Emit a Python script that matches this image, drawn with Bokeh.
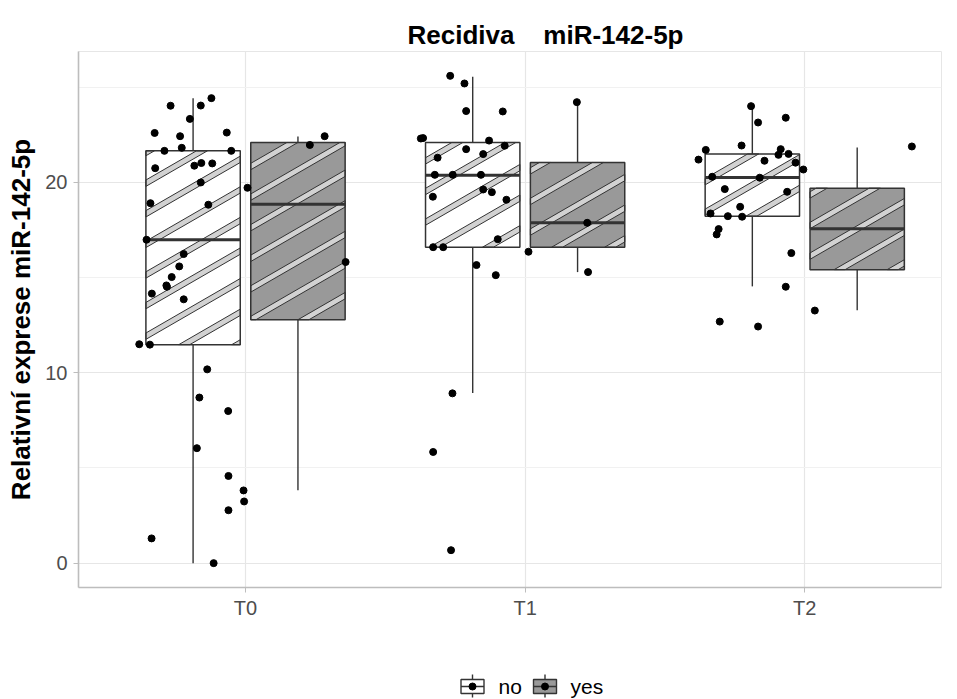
import math
from bokeh.plotting import figure
from bokeh.models import Range1d, FixedTicker
from bokeh.layouts import column
from bokeh.embed import file_html
from bokeh.resources import INLINE
from bokeh.core.properties import value

# ---------------------------------------------------------------- data
times = ["T0", "T1", "T2"]
groups = ["no", "yes"]

# box summaries per (time, group): lower whisker, Q1, median, Q3, upper whisker
box_time = ["T0", "T0", "T1", "T1", "T2", "T2"]
box_group = ["no", "yes", "no", "yes", "no", "yes"]
whisker_lo = [0.00, 3.83, 8.94, 15.29, 14.54, 13.28]
q1 = [11.48, 12.79, 16.60, 16.60, 18.23, 15.42]
median = [16.99, 18.86, 20.38, 17.88, 20.26, 17.57]
q3 = [21.66, 22.10, 22.10, 21.05, 21.50, 19.70]
whisker_hi = [24.43, 22.41, 25.56, 24.22, 24.00, 21.84]

# individual measurements (jitter = horizontal offset from the time position)
t0_jitter = [-0.122, -0.268, -0.160, -0.199, -0.325, -0.234, -0.067, -0.228,
             -0.290, -0.051, -0.323, -0.183, -0.158, -0.119, -0.160, -0.340,
             -0.133, 0.007, -0.354, -0.221, -0.237, -0.264, -0.283, -0.281,
             -0.335, -0.221, -0.380, -0.342, -0.137, -0.165, -0.062, -0.174,
             -0.061, -0.007, -0.005, -0.061, -0.336, -0.114, 0.230, 0.283,
             0.358]
t0_value = [24.43, 24.03, 24.04, 23.34, 22.60, 22.43, 22.62, 21.82,
            21.66, 21.66, 20.75, 20.88, 21.02, 21.00, 20.00, 18.91,
            18.83, 19.72, 16.99, 16.24, 15.59, 15.03, 14.59, 14.52,
            14.16, 13.86, 11.50, 11.48, 10.18, 8.70, 7.99, 6.04,
            4.58, 3.82, 3.24, 2.78, 1.30, 0.00, 21.97, 22.43,
            15.82]
t1_jitter = [-0.268, -0.217, -0.211, -0.080, -0.373, -0.365, -0.129, -0.073,
             -0.211, -0.150, -0.313, -0.323, -0.259, -0.158, -0.150, -0.119,
             -0.330, -0.067, -0.098, -0.329, -0.293, 0.012, -0.174, -0.105,
             -0.260, -0.329, -0.265, 0.185, 0.222, 0.225]
t1_value = [25.60, 25.20, 23.75, 23.73, 22.31, 22.33, 22.20, 21.93,
            21.75, 21.49, 21.30, 20.40, 20.40, 20.40, 19.63, 19.49,
            19.25, 19.09, 17.02, 16.60, 16.60, 16.36, 15.66, 15.13,
            8.92, 5.84, 0.68, 24.22, 17.88, 15.29]
t2_jitter = [-0.192, -0.068, -0.167, -0.226, -0.354, -0.086, -0.094, -0.058,
             -0.380, -0.144, -0.033, -0.005, -0.331, -0.161, -0.286, -0.063,
             -0.231, -0.337, -0.275, -0.224, -0.308, -0.315, -0.048, -0.068,
             -0.304, -0.167, 0.383, 0.036]
t2_value = [24.01, 23.40, 23.15, 21.94, 21.71, 21.75, 21.45, 21.50,
            21.20, 21.14, 21.04, 20.68, 20.30, 20.25, 19.65, 19.51,
            18.72, 18.37, 18.23, 18.20, 17.55, 17.27, 16.29, 14.52,
            12.69, 12.43, 21.89, 13.27]

y_ticks = [0, 10, 20]
title_text = "Recidiva\u00a0\u00a0\u00a0\u00a0miR-142-5p"
y_title = "Relativní exprese miR-142-5p"

# ---------------------------------------------------------------- style
FONT = "Liberation Sans"
W = 957
H_TOP, H_MAIN, H_LEG = 51, 599, 49
FRAME_L, FRAME_R = 78, 941
FRAME_H = 536
X0, X1 = 0.4027, 3.489
Y0, Y1 = -1.28, 26.88
DODGE = 0.1875
HALF_W = 0.16875
FILL = {"no": "#ffffff", "yes": "#999999"}
DARK = "#333333"
STRIPE_FILL = "#d2d2d2"
STRIPE_ANGLE = math.radians(30)
STRIPE_SPACING = 26.5   # px, perpendicular distance between stripes
STRIPE_WIDTH = 5.5      # px
STRIPE_PHASE = 0.0

sx = (FRAME_R - FRAME_L) / (X1 - X0)
sy = FRAME_H / (Y1 - Y0)


def strip(height):
    """Axis-less strip sharing the main frame's horizontal extent (page px)."""
    f = figure(width=W, height=height, x_range=Range1d(FRAME_L, FRAME_R),
               y_range=Range1d(0, height), x_axis_type=None, y_axis_type=None,
               output_backend="svg", toolbar_location=None, title=None,
               min_border_left=FRAME_L, min_border_right=W - FRAME_R,
               min_border_top=0, min_border_bottom=0)
    f.grid.visible = False
    f.outline_line_color = None
    f.background_fill_color = "white"
    f.border_fill_color = "white"
    return f


# ---------------------------------------------------------------- title strip
top = strip(H_TOP)
top.text(x=[407], y=[H_TOP - 34], text=[title_text], text_font=value(FONT),
         text_font_size="26px", text_font_style="bold", text_color="black",
         text_baseline="alphabetic", text_align="left")

# ---------------------------------------------------------------- main plot
p = figure(width=W, height=H_MAIN, x_range=Range1d(X0, X1), y_range=Range1d(Y0, Y1),
           output_backend="svg", toolbar_location=None, title=None,
           min_border_left=FRAME_L, min_border_right=W - FRAME_R,
           min_border_top=0, min_border_bottom=H_MAIN - FRAME_H)
p.background_fill_color = "white"
p.border_fill_color = "white"
p.outline_line_color = "#e6e6e6"

# grid
p.xgrid.ticker = FixedTicker(ticks=[1, 2, 3])
p.ygrid.ticker = FixedTicker(ticks=y_ticks, minor_ticks=[5, 15, 25])
for g in (p.xgrid, p.ygrid):
    g.grid_line_color = "#e6e6e6"
    g.grid_line_width = 1.2
p.ygrid.minor_grid_line_color = "#f1f1f1"
p.ygrid.minor_grid_line_width = 1

# axes
p.xaxis.ticker = FixedTicker(ticks=[1, 2, 3])
p.xaxis.major_label_overrides = {i + 1: t for i, t in enumerate(times)}
p.yaxis.ticker = FixedTicker(ticks=y_ticks)
for ax in (p.xaxis, p.yaxis):
    ax.axis_line_color = "#bdbdbd"
    ax.axis_line_width = 1.6
    ax.major_tick_line_color = "#bdbdbd"
    ax.major_tick_out = 5
    ax.major_tick_in = 0
    ax.minor_tick_line_color = None
    ax.major_label_text_font = FONT
    ax.major_label_text_font_size = "20px"
    ax.major_label_text_color = "#4d4d4d"
p.xaxis.major_label_standoff = 4
p.yaxis.major_label_standoff = 6
p.yaxis.axis_label = y_title
p.yaxis.axis_label_text_font = FONT
p.yaxis.axis_label_text_font_size = "26px"
p.yaxis.axis_label_text_font_style = "bold"
p.yaxis.axis_label_text_color = "black"
p.yaxis.axis_label_standoff = 6


# ---------------------------------------------------------------- helpers
def to_px(x, y):
    return (x - X0) * sx, (y - Y0) * sy


def to_data(X, Y):
    return X / sx + X0, Y / sy + Y0


def clip_half(poly, nx, ny, c, keep_ge):
    out = []
    n = len(poly)
    for i in range(n):
        P, Q = poly[i], poly[(i + 1) % n]
        fp = nx * P[0] + ny * P[1] - c
        fq = nx * Q[0] + ny * Q[1] - c
        if not keep_ge:
            fp, fq = -fp, -fq
        if fp >= 0:
            out.append(P)
        if (fp >= 0) != (fq >= 0):
            t = fp / (fp - fq)
            out.append((P[0] + t * (Q[0] - P[0]), P[1] + t * (Q[1] - P[1])))
    return out


def stripes(xl, xr, yb, yt):
    """Diagonal stripe bands clipped to a box, returned in data units."""
    corners = [to_px(xl, yb), to_px(xr, yb), to_px(xr, yt), to_px(xl, yt)]
    nx, ny = -math.sin(STRIPE_ANGLE), math.cos(STRIPE_ANGLE)
    us = [nx * X + ny * Y for X, Y in corners]
    cx = sum(c[0] for c in corners) / 4
    cy = sum(c[1] for c in corners) / 4
    u0 = nx * cx + ny * cy + STRIPE_PHASE
    kmin = math.floor((min(us) - u0) / STRIPE_SPACING) - 1
    kmax = math.ceil((max(us) - u0) / STRIPE_SPACING) + 1
    xs, ys = [], []
    for k in range(kmin, kmax + 1):
        uc = u0 + k * STRIPE_SPACING
        poly = clip_half(corners, nx, ny, uc - STRIPE_WIDTH / 2, True)
        if poly:
            poly = clip_half(poly, nx, ny, uc + STRIPE_WIDTH / 2, False)
        if len(poly) >= 3:
            pts = [to_data(X, Y) for X, Y in poly]
            xs.append([q[0] for q in pts])
            ys.append([q[1] for q in pts])
    return xs, ys


# ---------------------------------------------------------------- boxes
centers = [times.index(t) + 1 + (-DODGE if g == "no" else DODGE)
           for t, g in zip(box_time, box_group)]
fills = [FILL[g] for g in box_group]

# whiskers
p.segment(x0=centers, y0=q3, x1=centers, y1=whisker_hi, line_color=DARK, line_width=1.4)
p.segment(x0=centers, y0=whisker_lo, x1=centers, y1=q1, line_color=DARK, line_width=1.4)

# box bodies
p.quad(left=[c - HALF_W for c in centers], right=[c + HALF_W for c in centers],
       bottom=q1, top=q3, fill_color=fills, line_color=None)

# stripe pattern
sxs, sys_ = [], []
for c, lo, hi in zip(centers, q1, q3):
    a, b = stripes(c - HALF_W, c + HALF_W, lo, hi)
    sxs += a
    sys_ += b
p.patches(xs=sxs, ys=sys_, fill_color=STRIPE_FILL, line_color=DARK, line_width=1.0)

# outlines and medians
p.quad(left=[c - HALF_W for c in centers], right=[c + HALF_W for c in centers],
       bottom=q1, top=q3, fill_color=None, line_color=DARK, line_width=1.5)
p.segment(x0=[c - HALF_W for c in centers], y0=median,
          x1=[c + HALF_W for c in centers], y1=median, line_color=DARK, line_width=3)

# jittered measurements
px, py = [], []
for i, (jit, val) in enumerate([(t0_jitter, t0_value), (t1_jitter, t1_value),
                                 (t2_jitter, t2_value)]):
    px += [i + 1 + j for j in jit]
    py += val
p.scatter(px, py, size=7, fill_color="black", line_color="black")

# ---------------------------------------------------------------- legend strip
leg = strip(H_LEG)
key_x = [472, 544.5]
text_x = [498, 570]
key_half = 11.5
leg.segment(x0=key_x, y0=[2, 2], x1=key_x, y1=[25, 25], line_color=DARK, line_width=1.4)
leg.quad(left=[k - key_half for k in key_x], right=[k + key_half for k in key_x],
         bottom=[6, 6], top=[20, 20], fill_color=[FILL[g] for g in groups],
         line_color=DARK, line_width=1.4)
leg.segment(x0=[k - key_half for k in key_x], y0=[13, 13],
            x1=[k + key_half for k in key_x], y1=[13, 13], line_color=DARK, line_width=1.6)
leg.scatter(key_x, [13, 13], size=7, fill_color="black", line_color="black")
leg.text(x=text_x, y=[13, 13], text=groups, text_font=value(FONT), text_font_size="21px",
         text_color="black", text_baseline="middle", text_align="left")

layout = column(top, p, leg, spacing=0)
open("out.html", "w").write(file_html(layout, INLINE))
